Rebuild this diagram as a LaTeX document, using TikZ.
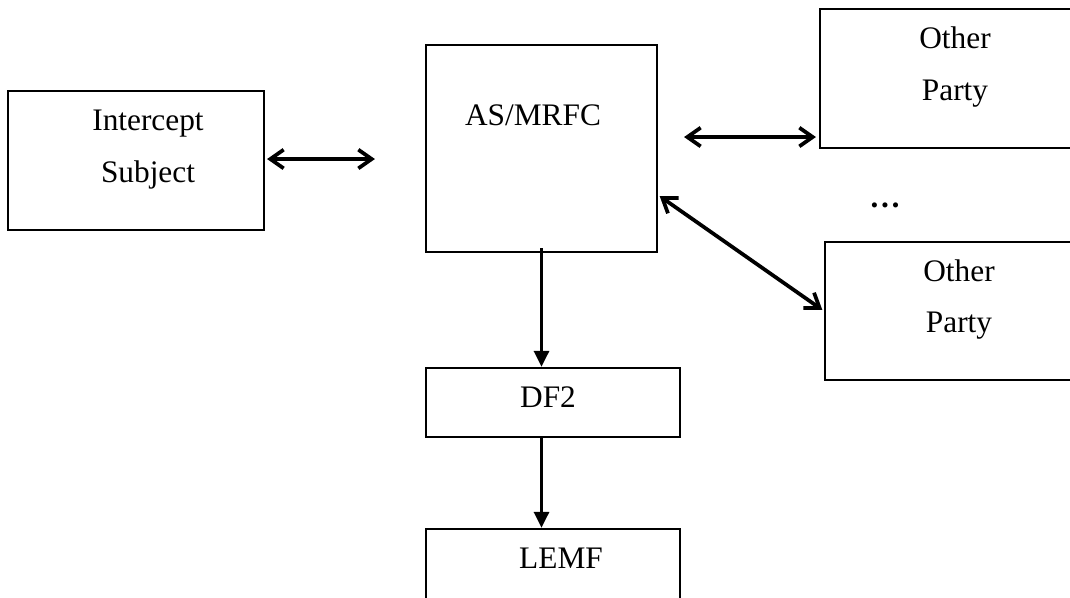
\documentclass[tikz,border=0pt]{standalone}
\usepackage{fontspec}
\setmainfont{Liberation Serif}
\usetikzlibrary{arrows.meta,calc}

\begin{document}
\begin{tikzpicture}[x=0.75pt,y=-0.75pt,
  every node/.style={font=\fontsize{23.5}{38.5}\selectfont},
  box/.style={draw,line width=1.6pt,inner sep=0pt},
  twoway/.style={{Straight Barb[length=10pt,width=14pt]}-{Straight Barb[length=10pt,width=14pt]},
    line width=2.8pt},
  oneway/.style={-{Triangle[length=12pt,width=11pt]},line width=2.8pt}]
  \clip (0,0) rectangle (1070,598);
  % boxes
  \node[box,minimum width=192pt,minimum height=104.25pt] (sub) at (136,160.5) {};
  \node[box,minimum width=173.25pt,minimum height=155.25pt] (as) at (541.5,148.5) {};
  \node[box,minimum width=202.5pt,minimum height=104.25pt] (op1) at (955,78.5) {};
  \node[box,minimum width=201pt,minimum height=103.5pt] (op2) at (959,311) {};
  \node[box,minimum width=190.5pt,minimum height=51.75pt] (df2) at (553,402.5) {};
  \node[box,minimum width=190.5pt,minimum height=75pt] (lemf) at (553,579) {};
  % texts
  \node[align=center] (subtxt) at (148,149.5) {Intercept\\Subject};
  \node[anchor=base] (astxt) at (533,126) {AS/MRFC};
  \node[align=center] (op1txt) at (955,67) {Other\\Party};
  \node[align=center] (op2txt) at (959,299.5) {Other\\Party};
  \node[anchor=base,font=\fontsize{23.5}{28}\selectfont\bfseries] (dots) at (885,208) {…};
  \node[anchor=base] (df2txt) at (548,407) {DF2};
  \node[anchor=base] (lemftxt) at (561,568) {LEMF};
  % connectors
  \draw[twoway,shorten <=1.5pt,shorten >=37.5pt]
    ([yshift=1.1pt]sub.east) -- ([yshift=1.1pt]sub.east -| as.west);
  \draw[twoway,shorten <=19.5pt,shorten >=2.25pt]
    ([yshift=8.6pt]as.east) -- ([yshift=8.6pt]as.east -| op1.west);
  \draw[twoway,shorten <=1.5pt,shorten >=1.5pt]
    ([yshift=-34.9pt]as.east) -- (op2.west);
  \draw[oneway,shorten <=-3.75pt] (as.south) -- (as.south |- df2.north);
  \draw[oneway] (df2.south -| as.south) -- (lemf.north -| as.south);
\end{tikzpicture}
\end{document}
